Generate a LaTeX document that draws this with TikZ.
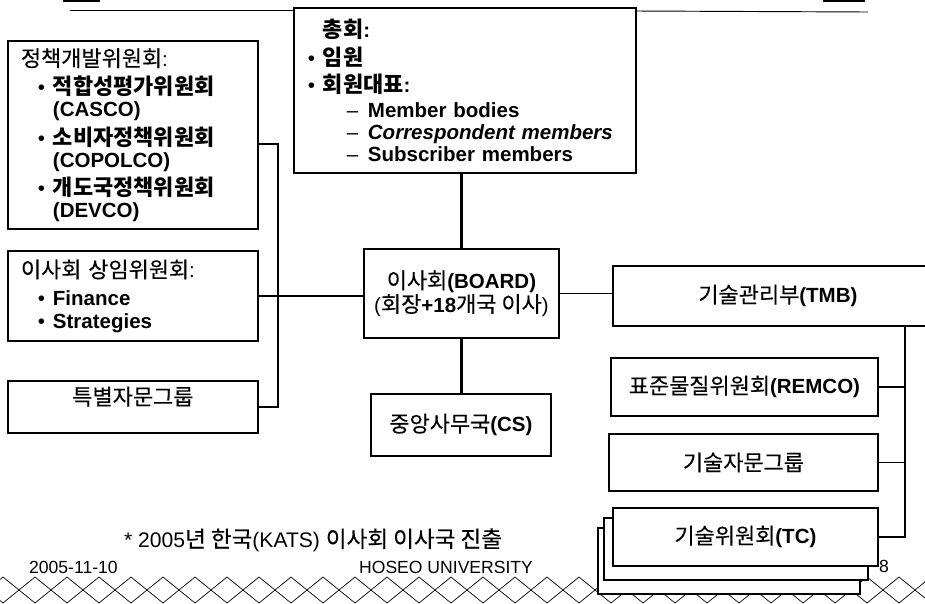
\documentclass[tikz,border=0pt]{standalone}
\usepackage{fontspec}
\setmainfont{Liberation Sans}
\newfontfamily\kr{Noto Sans CJK KR}[Scale=1.07, UprightFeatures={FakeBold=0.3}]
\usetikzlibrary{positioning}
\newcommand{\itm}{\hspace*{0.51cm}\makebox[0.45cm][l]{\textbullet}}
\newcommand{\cont}{\hspace*{0.96cm}}
\newcommand{\sub}{\hspace*{1.17cm}\makebox[0.63cm][l]{--}}
\tikzset{
  box/.style={draw, line width=1.6pt, fill=white, inner sep=0pt},
  link/.style={line width=1.5pt},
  trunk/.style={line width=2.6pt},
  body/.style={font=\fontsize{17.5pt}{19pt}\selectfont},
}

\begin{document}
\begin{tikzpicture}[x=0.03cm,y=-0.03cm]
\useasboundingbox (0,0) rectangle (925,603);

% hatching along the foot of the slide
\foreach \i in {-1,...,28}
  \draw[line width=0.6pt] (3+32*\i,577) -- (35+32*\i,603) (35+32*\i,577) -- (3+32*\i,603);

% header rule
\draw[line width=0.8pt] (70,10) -- (293,10);
\draw[line width=0.8pt] (636,11) -- (868,12);
\fill (63,0) rectangle (100,2);
\fill (823,0) rectangle (865,2);

% left column
\draw (7,40) node[box, body, anchor=north west, text width=6.72cm, inner xsep=0.39cm,
  minimum height=5.64cm, align=left] (poldev) {
{\kr 정책개발위원회}:\\[5pt]
\itm{\bfseries\kr 적합성평가위원회}\\
\cont\textbf{(CASCO)}\\[4pt]
\itm{\bfseries\kr 소비자정책위원회}\\
\cont\textbf{(COPOLCO)}\\[3pt]
\itm{\bfseries\kr 개도국정책위원회}\\
\cont\textbf{(DEVCO)}
};

\draw (7,250) node[box, body, anchor=north west, text width=6.72cm, inner xsep=0.39cm,
  minimum height=2.7cm, align=left] (standing) {
{\kr 이사회 상임위원회}:\\[5pt]
\itm\textbf{Finance}\\
\itm\textbf{Strategies}
};

\draw (7,380) node[box, body, anchor=north west, minimum width=7.5cm,
  minimum height=1.56cm, align=center] (advisory) {
{\kr 특별자문그룹}\\ \mbox{}
};

% general assembly
\draw (293,7) node[box, body, anchor=north west, text width=9.42cm, inner xsep=0.42cm,
  minimum height=4.95cm, align=left] (assembly) {
\hspace*{0.45cm}{\bfseries\kr 총회}\textbf{:}\\[5pt]
\makebox[0.45cm][l]{\textbullet}{\bfseries\kr 임원}\\[4pt]
\makebox[0.45cm][l]{\textbullet}{\bfseries\kr 회원대표}\textbf{:}\\[2pt]
\sub\textbf{Member bodies}\\
\sub\textbf{\itshape Correspondent members}\\
\sub\textbf{Subscriber members}
};

% board and secretariat
\draw (363,248) node[box, body, anchor=north west, minimum width=5.85cm,
  minimum height=2.67cm, align=center] (board) {
{\kr 이사회}\textbf{(BOARD)}\\
({\kr 회장}\textbf{+18}{\kr 개국 이사})
};
\draw (370,393) node[box, body, anchor=north west, minimum width=5.4cm,
  minimum height=1.86cm] (cs) {{\kr 중앙사무국}\textbf{(CS)}};

% technical side
\draw (612,265) node[box, body, anchor=north west, minimum width=9.9cm,
  minimum height=1.8cm] (tmb) {{\kr 기술관리부}\textbf{(TMB)}};
\draw (610,357) node[box, body, anchor=north west, minimum width=8.01cm,
  minimum height=1.74cm] (remco) {{\kr 표준물질위원회}\textbf{(REMCO)}};
\draw (608,433) node[box, body, anchor=north west, minimum width=8.07cm,
  minimum height=1.71cm] (tag) {{\kr 기술자문그룹}};
\draw (597,527) node[box, anchor=north west, minimum width=7.86cm,
  minimum height=1.98cm] (tcback) {};
\draw (603,517) node[box, anchor=north west, minimum width=7.92cm,
  minimum height=1.86cm] (tcmid) {};
\draw (612,507) node[box, body, anchor=north west, minimum width=7.95cm,
  minimum height=1.74cm] (tc) {{\kr 기술위원회}\textbf{(TC)}};

% connectors
\coordinate (lbus) at (278,0);
\coordinate (rbus) at (905,325);
\draw[link] (poldev.east) ++(0,9) -| (advisory.east -| lbus) -- (advisory.east);
\draw[link] (standing.east) -- (standing.east -| board.west);
\draw[link] (board.east) -- (board.east -| tmb.west);
\draw[trunk] (board.north |- assembly.south) -- (board.north);
\draw[trunk] (board.south) -- (board.south |- cs.north);
\draw[link] (tmb.south -| rbus) -- (rbus |- tc.east) -- (tc.east);
\draw[link] (remco.east) -- (remco.east -| rbus);
\draw[link] (tag.east) -- (tag.east -| rbus);

% notes
\draw (120,540) node[anchor=west, font=\fontsize{18pt}{21pt}\selectfont] (note)
  {* 2005{\kr 년 한국}(KATS) {\kr 이사회 이사국 진출}};
\draw (25,567) node[anchor=west, font=\fontsize{15pt}{17pt}\selectfont] (date) {2005-11-10};
\draw (355,567) node[anchor=west, font=\fontsize{15pt}{17pt}\selectfont] (school) {HOSEO UNIVERSITY};
\draw (884,566) node[font=\fontsize{15pt}{17pt}\selectfont] (page) {8};
\end{tikzpicture}
\end{document}
